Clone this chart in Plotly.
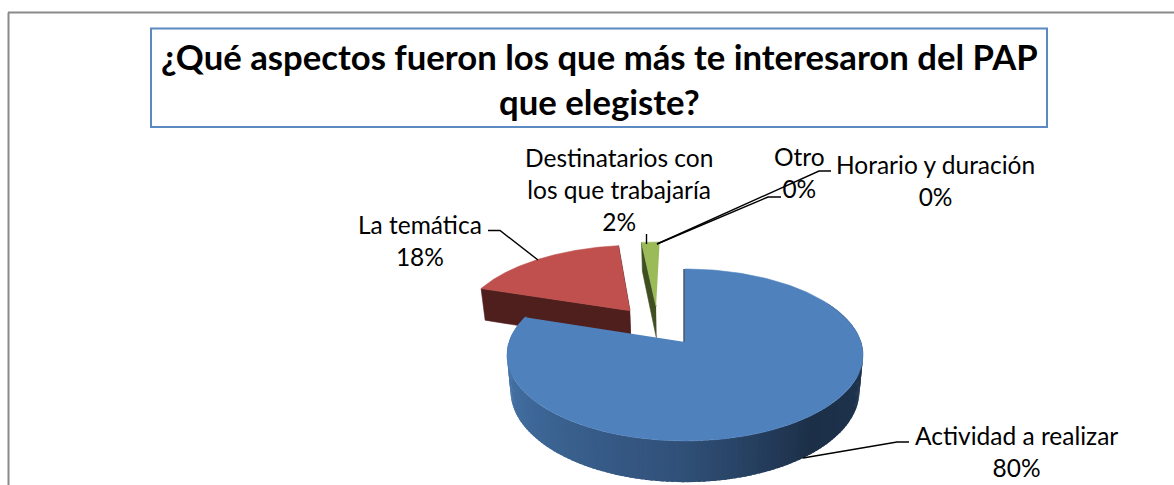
import numpy as np
import plotly.graph_objects as go

# datos de la encuesta
categories = ['Actividad a realizar', 'La temática', 'Destinatarios con<br>los que trabajaría', 'Otro', 'Horario y duración']
values = [80, 18, 2, 0, 0]
title_lines = '¿Qué aspectos fueron los que más te interesaron del PAP<br>que elegiste?'

FONT = 'Lato'
top_colors = ['#4F81BD', '#C0504D', '#9BBB59']
wall_colors = ['#1D3149', '#4F1F1E', '#3F4F22']

# proyeccion del pastel 3D a pixeles de la ventana
X0, Y0 = 685, 342
RX, RY = 176, 84
PERSP = 0.151
DEPTH = 35
BOTTOM_SCALE = 0.98
EXPLODE = 0.25
EXPLODE_U = 1.08


def project(u, v, bottom=False):
    w = 1 + PERSP * v
    s = BOTTOM_SCALE if bottom else 1
    x = X0 + s * RX * u / w
    y = Y0 - RY * v / w + (DEPTH / w if bottom else 0)
    return x, y


# angulos de cada rebanada a partir de los valores (sentido horario desde las 12)
total = sum(values)
edges = np.cumsum([0] + values) / total * 2 * np.pi
mids = (edges[:-1] + edges[1:]) / 2


def offset(i):
    du = EXPLODE_U * EXPLODE * (np.sin(mids[i]) - np.sin(mids[0]))
    dv = EXPLODE * (np.cos(mids[i]) - np.cos(mids[0]))
    return du, dv


def add_poly(fig, xs, ys, color, width=0.6):
    fig.add_trace(go.Scatter(x=list(xs), y=list(ys), mode='lines', fill='toself', fillcolor=color,
                             line=dict(color=color, width=width), hoverinfo='skip', showlegend=False))


def add_cut_wall(fig, i, theta, color):
    du, dv = offset(i)
    xa, ya = project(du, dv)
    xb, yb = project(du, dv, True)
    xc, yc = project(du + np.sin(theta), dv + np.cos(theta))
    xd, yd = project(du + np.sin(theta), dv + np.cos(theta), True)
    add_poly(fig, [xa, xc, xd, xb], [ya, yc, yd, yb], color)


def add_top(fig, i):
    du, dv = offset(i)
    t = np.linspace(edges[i], edges[i + 1], 200)
    xs, ys = project(du + np.sin(t), dv + np.cos(t))
    xa, ya = project(du, dv)
    add_poly(fig, np.r_[xa, xs], np.r_[ya, ys], top_colors[i])


# degradado de la pared curva azul
shade_angles = [60, 90, 140, 180, 240, 270, 288]
shade_rgb = [(0x20, 0x37, 0x52), (0x1F, 0x35, 0x50), (0x1C, 0x2F, 0x47), (0x30, 0x50, 0x78),
             (0x40, 0x6B, 0x9D), (0x48, 0x76, 0xAB), (0x48, 0x76, 0xAB)]


def shade(deg):
    r, g, b = [np.interp(deg, shade_angles, [c[k] for c in shade_rgb]) for k in range(3)]
    return f'rgb({r:.0f},{g:.0f},{b:.0f})'


fig = go.Figure()

# marco exterior y recuadro del titulo
fig.add_shape(type='line', x0=8.5, x1=8.5, y0=12.5, y1=485, line=dict(color='#8A8A8A', width=2))
fig.add_shape(type='line', x0=8, x1=1174, y0=12.5, y1=12.5, line=dict(color='#8A8A8A', width=2))
fig.add_shape(type='rect', x0=151, x1=1047, y0=28.5, y1=127, line=dict(color='#5B8AC2', width=2),
              fillcolor='white')

# rebanada roja
add_cut_wall(fig, 1, edges[2], wall_colors[1])
add_cut_wall(fig, 1, edges[1], wall_colors[1])
add_top(fig, 1)

# rebanada verde
add_cut_wall(fig, 2, edges[2], wall_colors[2])
add_top(fig, 2)

# rebanada azul: pared curva por segmentos, corte y cara superior
du_b, dv_b = offset(0)
steps = np.arange(60, 288, 1.5)
for a in steps:
    t = np.radians(np.array([a, a + 2.5]))
    xt, yt = project(np.sin(t), np.cos(t))
    xb, yb = project(np.sin(t), np.cos(t), True)
    add_poly(fig, np.r_[xt, xb[::-1]], np.r_[yt, yb[::-1]], shade(a), width=0)
add_cut_wall(fig, 0, edges[0], '#1D3149')
xa, ya = project(du_b, dv_b)
xc, yc = project(du_b, dv_b + 1)
fig.add_trace(go.Scatter(x=[xa - 1, xc - 1], y=[ya, yc], mode='lines', line=dict(color='#1D3149', width=1.2),
                         hoverinfo='skip', showlegend=False))
add_top(fig, 0)

# lineas guia
leaders = [
    ([488, 500, 538], [230.5, 230.5, 260]),
    ([646.5, 646.5], [234, 244]),
    ([657, 768, 781], [244, 197, 197]),
    ([657, 819, 831], [244, 171, 171]),
    ([803, 897, 909], [458, 442, 442]),
]
for lx, ly in leaders:
    fig.add_trace(go.Scatter(x=lx, y=ly, mode='lines', line=dict(color='black', width=1.4),
                             hoverinfo='skip', showlegend=False))

# etiquetas: nombre y porcentaje
label_pos = [(1016, 451), (420, 240), (619, 189), (799, 172.5), (935, 180)]
for name, val, (lx, ly) in zip(categories, values, label_pos):
    fig.add_annotation(x=lx, y=ly, text=f'{name}<br>{val}%', showarrow=False, xanchor='center', yanchor='middle',
                       font=dict(family=FONT, size=24.5, color='black'))

fig.add_annotation(x=599, y=79, text=title_lines, showarrow=False, xanchor='center', yanchor='middle',
                   font=dict(family=FONT, size=34.7, color='black', weight='bold'))

fig.update_layout(width=1174, height=485, margin=dict(l=0, r=0, t=0, b=0), paper_bgcolor='white',
                  plot_bgcolor='white', showlegend=False,
                  xaxis=dict(range=[0, 1174], visible=False, fixedrange=True),
                  yaxis=dict(range=[485, 0], visible=False, fixedrange=True))

fig.write_html('out.html', config=dict(displayModeBar=False), post_script="document.body.style.margin='0';")
